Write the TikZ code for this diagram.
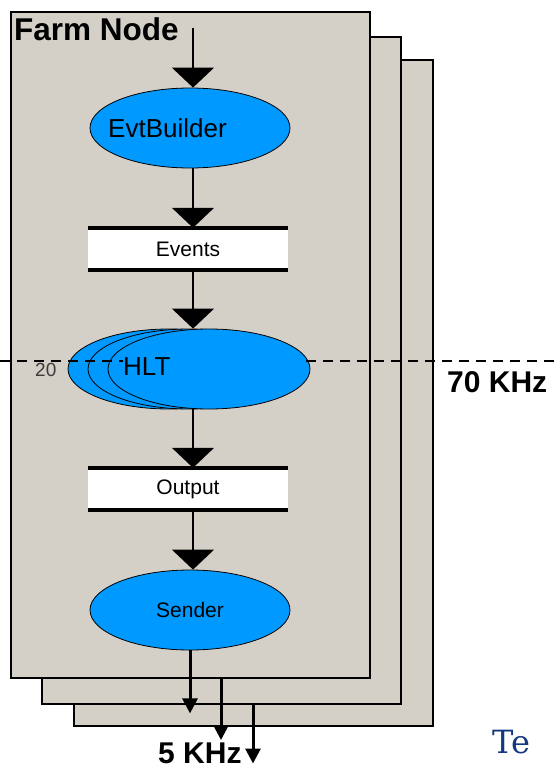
\documentclass[tikz,border=0pt]{standalone}
\usepackage{fontspec}
\setmainfont{Liberation Sans}
\newfontfamily\logofont{DejaVu Serif}
\usetikzlibrary{arrows.meta,positioning,shapes.geometric}
\definecolor{panelgray}{RGB}{212,208,200}
\definecolor{evblue}{RGB}{0,153,255}
\definecolor{logoblue}{RGB}{20,56,128}
\definecolor{numgray}{RGB}{60,60,60}
\newcommand{\fsz}[1]{\fontsize{#1pt}{#1pt}\selectfont}
\tikzset{
  panel/.style={draw=black, line width=2pt, fill=panelgray,
                minimum width=359pt, minimum height=666pt, inner sep=0pt},
  evnode/.style={ellipse, draw=black, line width=0.8pt, fill=evblue,
                 minimum width=200pt, minimum height=80pt, inner sep=0pt, font=\fsz{21}},
  hltnode/.style={evnode, minimum width=202pt},
  evlab/.style={inner sep=0pt, font=\fsz{26}},
  bufbox/.style={fill=white, minimum width=200pt, minimum height=42pt,
                 inner sep=0pt, font=\fsz{21}},
  barline/.style={line width=4pt},
  flowarr/.style={-{Triangle[width=42pt,length=20pt]}, line width=1.5pt},
  outarr/.style={-{Triangle[width=15pt,length=15pt]}, line width=3pt},
  rateline/.style={line width=2pt, dash pattern=on 10pt off 7pt},
  rate/.style={inner sep=0pt, font=\bfseries\fsz{30}},
}

\begin{document}
\begin{tikzpicture}[x=1pt, y=-1pt]
  \useasboundingbox (0,0) rectangle (554,768);
  % stacked farm nodes
  \node[panel] (panel3) at (253.5,393) {};
  \node[panel] (panel2) at (221,370.5) {};
  \node[panel] (panel1) at (190,345) {};
  \node[inner sep=0pt, anchor=base west, font=\bfseries\fsz{31.5}] (farm) at (14,41) {Farm Node};

  % processing chain
  \node[evnode] (evb) at (190,128) {};
  \node[evlab, anchor=west] (evbt) at (108,128) {EvtBuilder};
  \node[bufbox] (ev) at (188,249) {Events};
  \node[hltnode] (hlt3) at (169,369) {};
  \node[hltnode] (hlt2) at (189,369) {};
  \node[hltnode] (hlt1) at (209,369) {};
  \node[bufbox] (out) at (188,489) {Output};
  \node[evnode] (send) at (190,610) {Sender};
  \draw[barline] (ev.north west) -- (ev.north east);
  \draw[barline] (ev.south west) -- (ev.south east);
  \draw[barline] (out.north west) -- (out.north east);
  \draw[barline] (out.south west) -- (out.south east);

  % input rate cut
  \coordinate (rl) at (0,361);
  \coordinate (rr) at (554,361);
  \draw[rateline] (rl) -- (rr);
  \node[evlab, anchor=west, fill=evblue, text width=177pt, minimum height=22pt, align=left] (hltt) at (123,367) {HLT};
  \node[inner sep=0pt, anchor=base west, text=numgray, font=\fsz{19}] (ninst) at (35,376) {20};
  \node[rate, anchor=base west] (rin) at (447,392) {70 KHz};

  % flow
  \coordinate (feed) at (193,28);
  \draw[flowarr] (feed) -- (feed |- evb.north);
  \draw[flowarr] (feed |- evb.south) -- (feed |- ev.north);
  \draw[flowarr] (feed |- ev.south) -- (feed |- hlt1.north);
  \draw[flowarr] (feed |- hlt1.south) -- (feed |- out.north);
  \draw[flowarr] (feed |- out.south) -- (feed |- send.north);

  % output streams
  \draw[outarr] (send.south) -- ++(0,63);
  \draw[outarr] ([xshift=31pt]panel1.south) -- ++(0,61);
  \draw[outarr] ([xshift=32pt]panel2.south) -- ++(0,59);
  \node[rate, anchor=base west] (rout) at (158,763) {5 KHz};

  \node[inner sep=0pt, anchor=base west, text=logoblue, font=\logofont\fsz{32}] (logo) at (492,753) {Te};
\end{tikzpicture}
\end{document}
